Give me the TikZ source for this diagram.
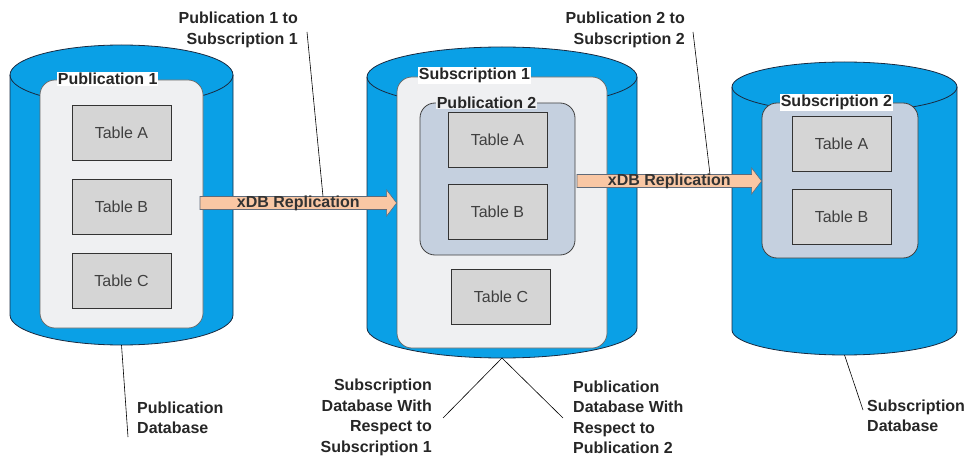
\documentclass[tikz,border=0pt]{standalone}
\usepackage{fontspec}
\setmainfont{Liberation Sans}
\usetikzlibrary{calc,positioning}

\definecolor{dbblue}{HTML}{0AA0E6}
\definecolor{dbline}{HTML}{1A2A40}
\definecolor{arealight}{HTML}{EFF0F2}
\definecolor{areablue}{HTML}{C5D0DF}
\definecolor{tblgray}{HTML}{D5D5D5}
\definecolor{peach}{HTML}{F9C7A4}

\tikzset{
  dbcyl/.style={fill=dbblue, draw=dbline, line width=0.8pt},
  dbrim/.style={draw=dbline, line width=0.8pt},
  dbarea/.style={fill=arealight, draw=gray!80!black, line width=0.7pt, rounded corners=15pt, inner sep=0pt},
  pubarea/.style={fill=areablue, draw=black!75, line width=0.8pt, rounded corners=15pt, inner sep=0pt},
  tbl/.style={fill=tblgray, draw=black!80, line width=0.8pt, minimum width=99pt, minimum height=55pt,
    inner sep=0pt, font=\fontsize{16}{19}\selectfont, text=black!75},
  boxlab/.style={fill=white, inner sep=1pt, anchor=west, font=\fontsize{16}{19}\selectfont\bfseries, text=black!85},
  note/.style={inner sep=0pt, font=\fontsize{16}{20.5}\selectfont\bfseries, text=black!85},
  reparrow/.style={fill=peach, draw=dbline!70, line width=0.6pt, line join=miter},
  replab/.style={inner sep=0pt, font=\fontsize{16}{19}\selectfont\bfseries, text=black!80},
  leader/.style={draw=black, line width=0.6pt}
}

\begin{document}
\begin{tikzpicture}[x=1pt,y=1pt]
  \useasboundingbox (0,0) rectangle (971,-457);

  % database cylinders
  \draw[dbcyl] (10,-75) -- (10,-315) arc[start angle=180, end angle=360, x radius=111.5, y radius=30]
    -- (233,-75) arc[start angle=0, end angle=180, x radius=111.5, y radius=30] -- cycle;
  \draw[dbrim] (10,-75) arc[start angle=180, end angle=360, x radius=111.5, y radius=30];
  \draw[dbcyl] (367,-77) -- (367,-328) arc[start angle=180, end angle=360, x radius=135, y radius=30]
    -- (637,-77) arc[start angle=0, end angle=180, x radius=135, y radius=30] -- cycle;
  \draw[dbrim] (367,-77) arc[start angle=180, end angle=360, x radius=135, y radius=30];
  \draw[dbcyl] (732,-87) -- (732,-330) arc[start angle=180, end angle=360, x radius=112.5, y radius=25]
    -- (957,-87) arc[start angle=0, end angle=180, x radius=112.5, y radius=25] -- cycle;
  \draw[dbrim] (732,-87) arc[start angle=180, end angle=360, x radius=112.5, y radius=25];
  \coordinate (pubbase) at (121.5,-345);
  \coordinate (midbase) at (502,-358);
  \coordinate (subbase) at (844.5,-355);

  % publication 1
  \node[dbarea, minimum width=163pt, minimum height=248pt] (pubone) at (121.5,-204) {};
  \node[boxlab] at ($(pubone.north west)+(17,1)$) {Publication 1};
  \node[tbl] (pubA) at (121.5,-133) {Table A};
  \node[tbl] (pubB) at (121.5,-207) {Table B};
  \node[tbl] (pubC) at (121.5,-281) {Table C};

  % subscription 1 / publication 2
  \node[dbarea, minimum width=210pt, minimum height=271pt] (subone) at (502,-212.5) {};
  \node[boxlab] at ($(subone.north west)+(21,1)$) {Subscription 1};
  \node[pubarea, minimum width=155pt, minimum height=152pt] (pubtwo) at (497.5,-179) {};
  \node[boxlab, fill=arealight] at ($(pubtwo.north west)+(16,0)$) {Publication 2};
  \node[tbl] (midA) at (497.5,-140) {Table A};
  \node[tbl] (midB) at (497.5,-211.5) {Table B};
  \node[tbl] (midC) at (501,-296.5) {Table C};

  % subscription 2
  \node[pubarea, minimum width=156pt, minimum height=155pt] (subtwo) at (840,-180.5) {};
  \node[boxlab] at ($(subtwo.north west)+(18,0.5)$) {Subscription 2};
  \node[tbl] (subA) at (841.5,-143.5) {Table A};
  \node[tbl] (subB) at (841.5,-216.5) {Table B};

  % replication arrows
  \coordinate (aone) at (200,-203);
  \coordinate (bone) at (subone.west |- aone);
  \draw[reparrow] ($(aone)+(0,6.5)$) -- ($(bone)+(-10,6.5)$) -- ($(bone)+(-10,13)$) -- (bone)
    -- ($(bone)+(-10,-13)$) -- ($(bone)+(-10,-6.5)$) -- ($(aone)+(0,-6.5)$) -- cycle;
  \node[replab] (repone) at ($(aone)!0.5!(bone)$) {xDB Replication};
  \coordinate (atwo) at (577,-181);
  \coordinate (btwo) at (subtwo.west |- atwo);
  \draw[reparrow] ($(atwo)+(0,6.5)$) -- ($(btwo)+(-10,6.5)$) -- ($(btwo)+(-10,13)$) -- (btwo)
    -- ($(btwo)+(-10,-13)$) -- ($(btwo)+(-10,-6.5)$) -- ($(atwo)+(0,-6.5)$) -- cycle;
  \node[replab] (reptwo) at ($(atwo)!0.5!(btwo)$) {xDB Replication};

  % notes
  \node[note, align=right, anchor=east] (lblone) at (298,-30) {Publication 1 to\\Subscription 1};
  \node[note, align=right, anchor=east] (lbltwo) at (685,-30) {Publication 2 to\\Subscription 2};
  \node[note, align=left, anchor=west] (pubdb) at (137,-418) {Publication\\Database};
  \node[note, align=right, anchor=east] (subrel) at (432,-417.5) {Subscription\\Database With\\Respect to\\Subscription 1};
  \node[note, align=left, anchor=west] (pubrel) at (573,-417.5) {Publication\\Database With\\Respect to\\Publication 2};
  \node[note, align=left, anchor=west] (subdb) at (867,-416) {Subscription\\Database};

  % leader lines
  \coordinate (tone) at (307,-32);
  \coordinate (ttwo) at (693,-32);
  \draw[leader] (tone) -- (323,-196.5);
  \draw[leader] (ttwo) -- (710,-174.5);
  \draw[leader] (pubbase) -- (128,-437);
  \draw[leader] (midbase) -- (443,-418);
  \draw[leader] (midbase) -- (563,-418);
  \draw[leader] (subbase) -- (863,-410);
\end{tikzpicture}
\end{document}
